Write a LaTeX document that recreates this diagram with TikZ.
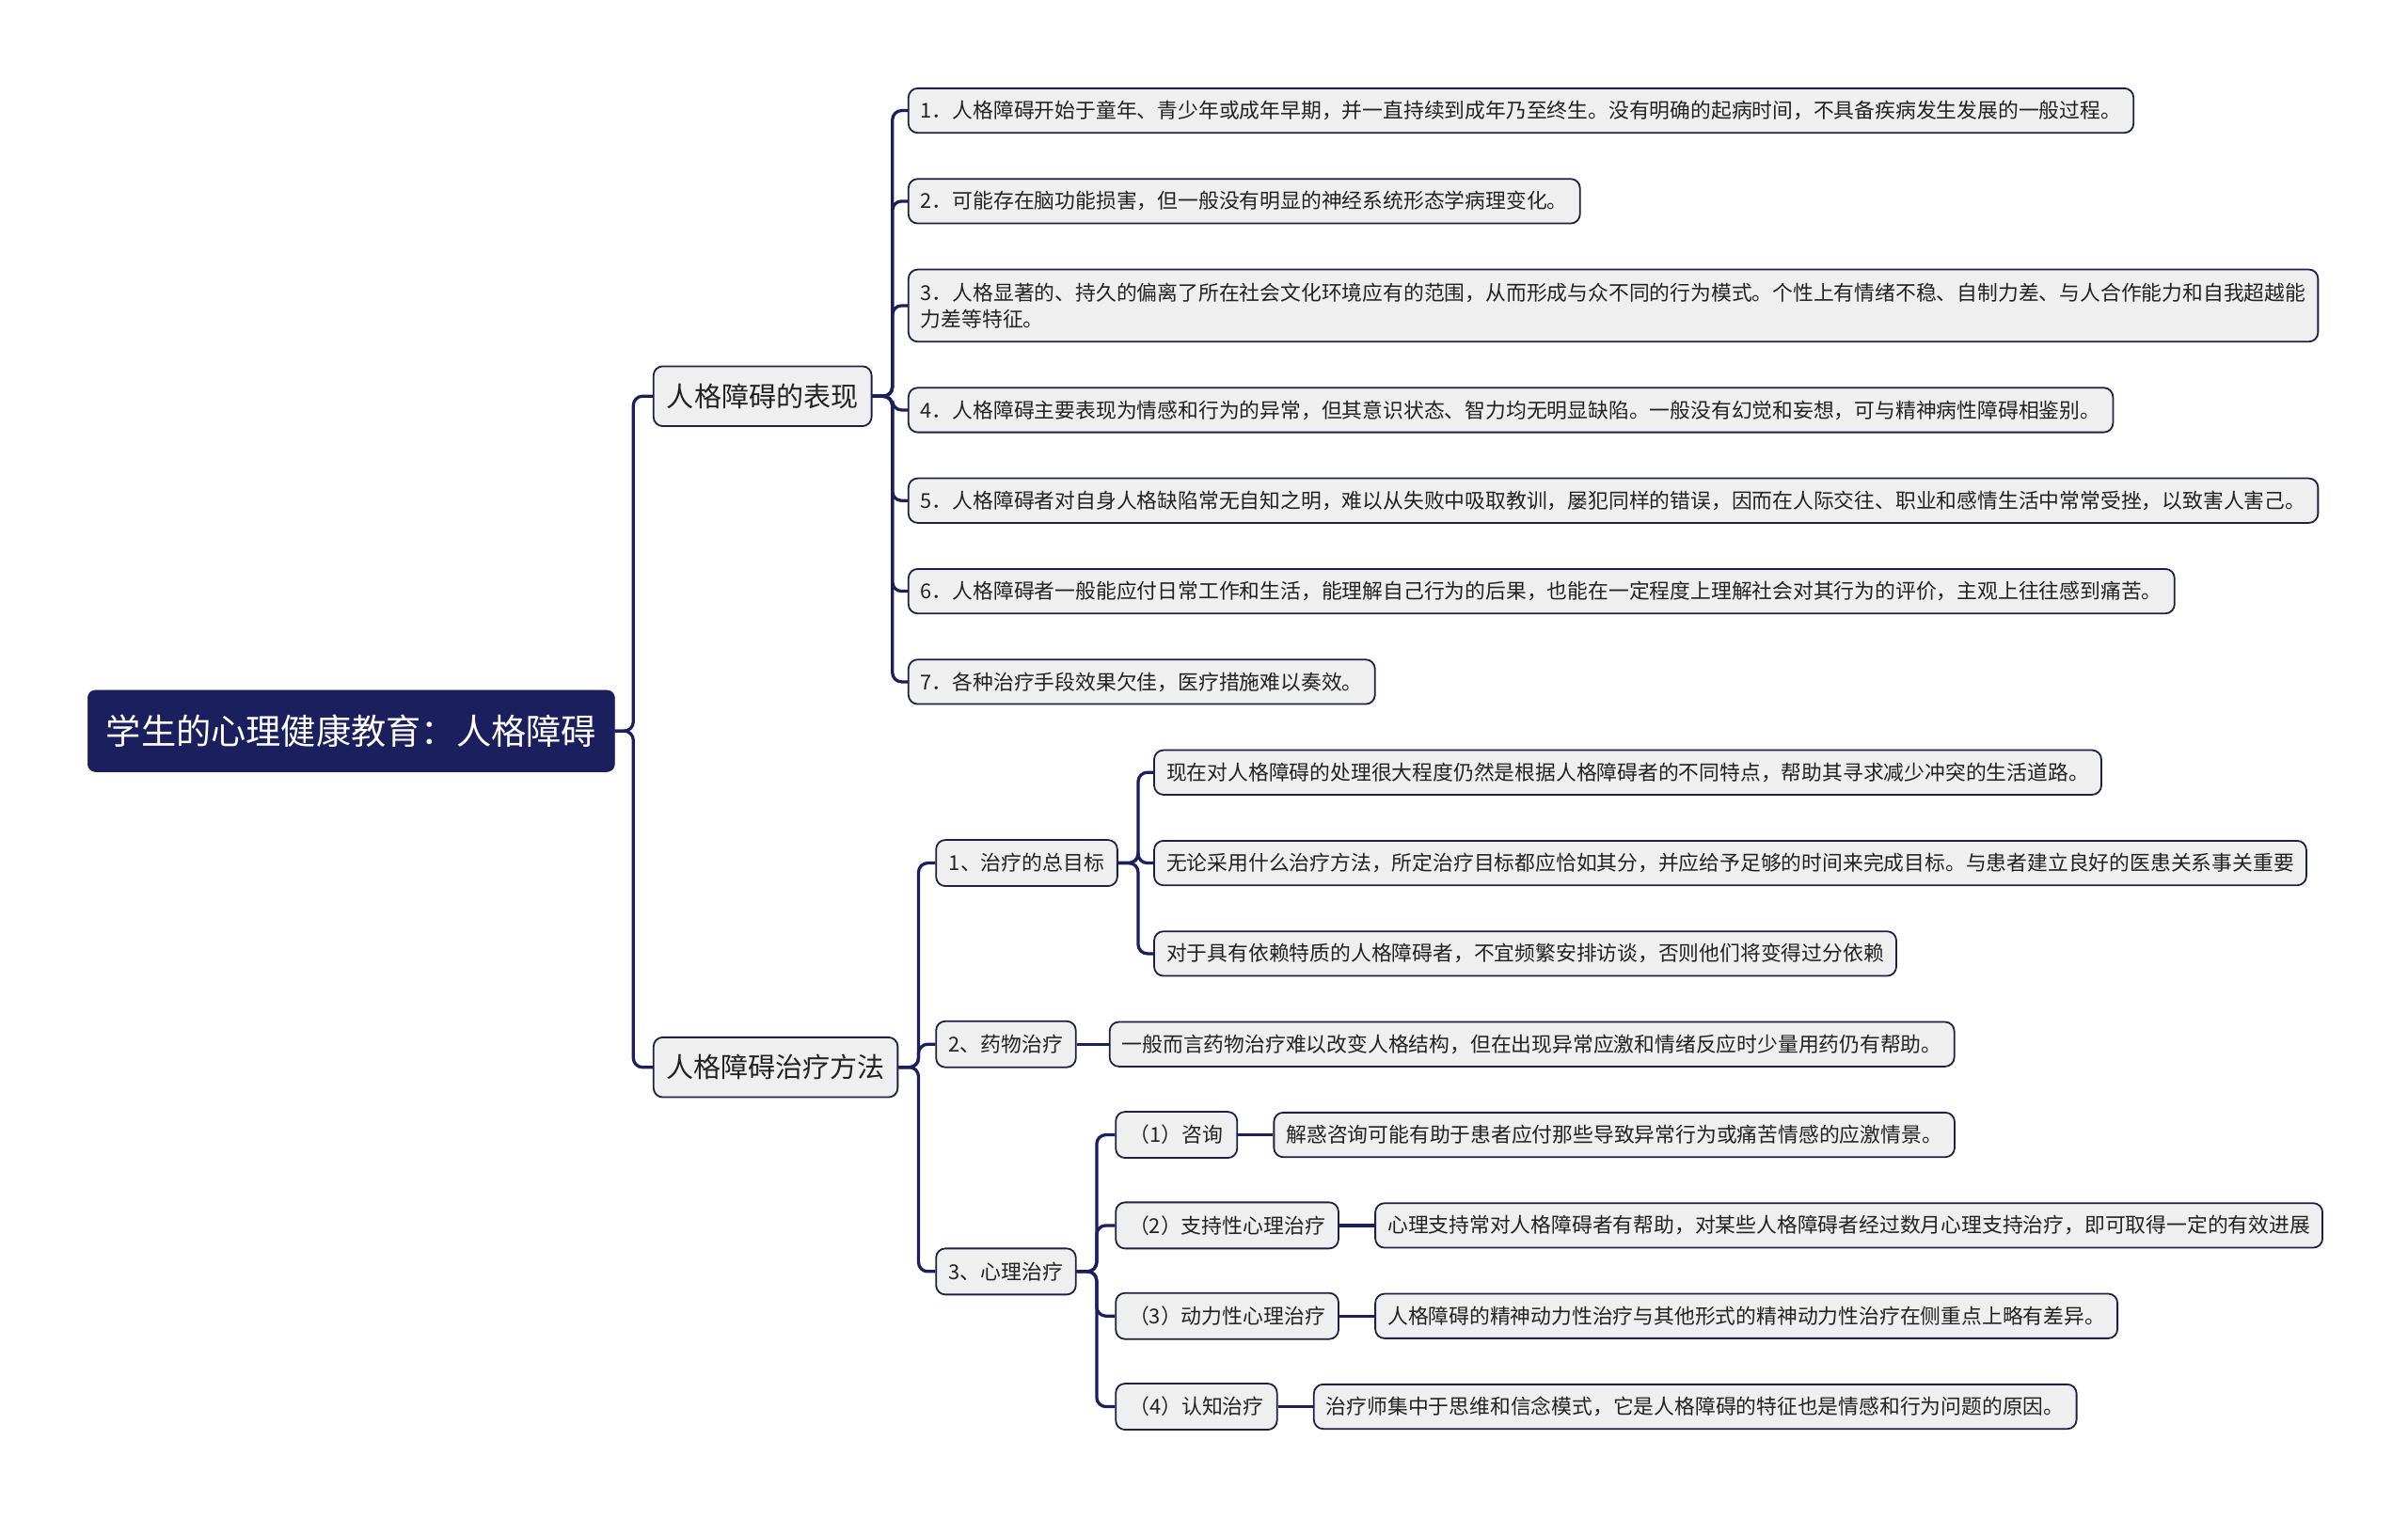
\documentclass[tikz,border=0pt]{standalone}
\usepackage{fontspec}
\newfontfamily\cjk{Noto Sans CJK SC}
\definecolor{navy}{RGB}{27,31,94}
\definecolor{edge}{RGB}{30,32,70}
\definecolor{boxgray}{RGB}{239,239,240}
\definecolor{txt}{RGB}{34,34,34}
\tikzset{
  conn/.style={draw=navy, line width=2pt, rounded corners=6pt},
  rootbox/.style={fill=navy, draw=navy, rounded corners=5pt, text=white,
    font=\cjk\fontsize{22.8}{26}\selectfont, minimum height=53pt, inner xsep=11pt, anchor=west},
  branchbox/.style={fill=boxgray, draw=edge, line width=1.1pt, rounded corners=6pt, text=txt,
    font=\cjk\fontsize{17.8}{21}\selectfont, minimum height=39pt, inner xsep=8pt, anchor=west},
  subbox/.style={fill=boxgray, draw=edge, line width=1.1pt, rounded corners=6pt, text=txt,
    font=\cjk\fontsize{13.4}{16}\selectfont, minimum height=30pt, inner xsep=8pt, anchor=west},
  leafbox/.style={fill=boxgray, draw=edge, line width=1.1pt, rounded corners=6pt, text=txt,
    font=\cjk\fontsize{13.35}{17}\selectfont, minimum height=29pt, inner xsep=8pt, anchor=west, align=left},
}
\begin{document}
\begin{tikzpicture}[x=1pt,y=-1pt]
\useasboundingbox[fill=white] (0,0) rectangle (1568,989);
% root and branches
\node[rootbox, minimum width=343pt] (root) at (57,476) {学生的心理健康教育：人格障碍};
\node[branchbox, minimum width=142pt] (b1) at (425,258) {人格障碍的表现};
\node[branchbox, minimum width=159pt] (b2) at (425,695) {人格障碍治疗方法};
% branch 1 leaves
\node[leafbox] (l1) at (591,72) {1．人格障碍开始于童年、青少年或成年早期，并一直持续到成年乃至终生。没有明确的起病时间，不具备疾病发生发展的一般过程。};
\node[leafbox] (l2) at (591,131) {2．可能存在脑功能损害，但一般没有明显的神经系统形态学病理变化。};
\node[leafbox, minimum height=47pt] (l3) at (591,199) {3．人格显著的、持久的偏离了所在社会文化环境应有的范围，从而形成与众不同的行为模式。个性上有情绪不稳、自制力差、与人合作能力和自我超越能\\力差等特征。};
\node[leafbox] (l4) at (591,267) {4．人格障碍主要表现为情感和行为的异常，但其意识状态、智力均无明显缺陷。一般没有幻觉和妄想，可与精神病性障碍相鉴别。};
\node[leafbox] (l5) at (591,326) {5．人格障碍者对自身人格缺陷常无自知之明，难以从失败中吸取教训，屡犯同样的错误，因而在人际交往、职业和感情生活中常常受挫，以致害人害己。};
\node[leafbox] (l6) at (591,385) {6．人格障碍者一般能应付日常工作和生活，能理解自己行为的后果，也能在一定程度上理解社会对其行为的评价，主观上往往感到痛苦。};
\node[leafbox] (l7) at (591,444) {7．各种治疗手段效果欠佳，医疗措施难以奏效。};
% branch 2 subs
\node[subbox, minimum width=118pt] (s1) at (609,562) {1、治疗的总目标};
\node[subbox, minimum width=91pt] (s2) at (609,680) {2、药物治疗};
\node[subbox, minimum width=91pt] (s3) at (609,828) {3、心理治疗};
% s1 leaves
\node[leafbox] (a1) at (751,503) {现在对人格障碍的处理很大程度仍然是根据人格障碍者的不同特点，帮助其寻求减少冲突的生活道路。};
\node[leafbox] (a2) at (751,562) {无论采用什么治疗方法，所定治疗目标都应恰如其分，并应给予足够的时间来完成目标。与患者建立良好的医患关系事关重要};
\node[leafbox] (a3) at (751,621) {对于具有依赖特质的人格障碍者，不宜频繁安排访谈，否则他们将变得过分依赖};
% s2 leaf
\node[leafbox] (m1) at (722,680) {一般而言药物治疗难以改变人格结构，但在出现异常应激和情绪反应时少量用药仍有帮助。};
% s3 children
\node[subbox, minimum width=79pt] (p1) at (726,739) {（1）咨询};
\node[subbox, minimum width=145pt] (p2) at (726,798) {（2）支持性心理治疗};
\node[subbox, minimum width=145pt] (p3) at (726,857) {（3）动力性心理治疗};
\node[subbox, minimum width=105pt] (p4) at (726,916) {（4）认知治疗};
\node[leafbox] (q1) at (829,739) {解惑咨询可能有助于患者应付那些导致异常行为或痛苦情感的应激情景。};
\node[leafbox] (q2) at (895,798) {心理支持常对人格障碍者有帮助，对某些人格障碍者经过数月心理支持治疗，即可取得一定的有效进展};
\node[leafbox] (q3) at (895,857) {人格障碍的精神动力性治疗与其他形式的精神动力性治疗在侧重点上略有差异。};
\node[leafbox] (q4) at (855,916) {治疗师集中于思维和信念模式，它是人格障碍的特征也是情感和行为问题的原因。};
% connectors
\foreach \t in {b1,b2} \draw[conn] (root.east) -- ++(12,0) |- (\t.west);
\foreach \t in {l1,l2,l3,l4,l5,l6,l7} \draw[conn] (b1.east) -- ++(13,0) |- (\t.west);
\foreach \t in {s1,s2,s3} \draw[conn] (b2.east) -- ++(13,0) |- (\t.west);
\foreach \t in {a1,a2,a3} \draw[conn] (s1.east) -- ++(13,0) |- (\t.west);
\draw[conn] (s2.east) -- (m1.west);
\foreach \t in {p1,p2,p3,p4} \draw[conn] (s3.east) -- ++(13,0) |- (\t.west);
\draw[conn] (p1.east) -- (q1.west);
\draw[conn] (p2.east) -- (q2.west);
\draw[conn] (p3.east) -- (q3.west);
\draw[conn] (p4.east) -- (q4.west);
\end{tikzpicture}
\end{document}
